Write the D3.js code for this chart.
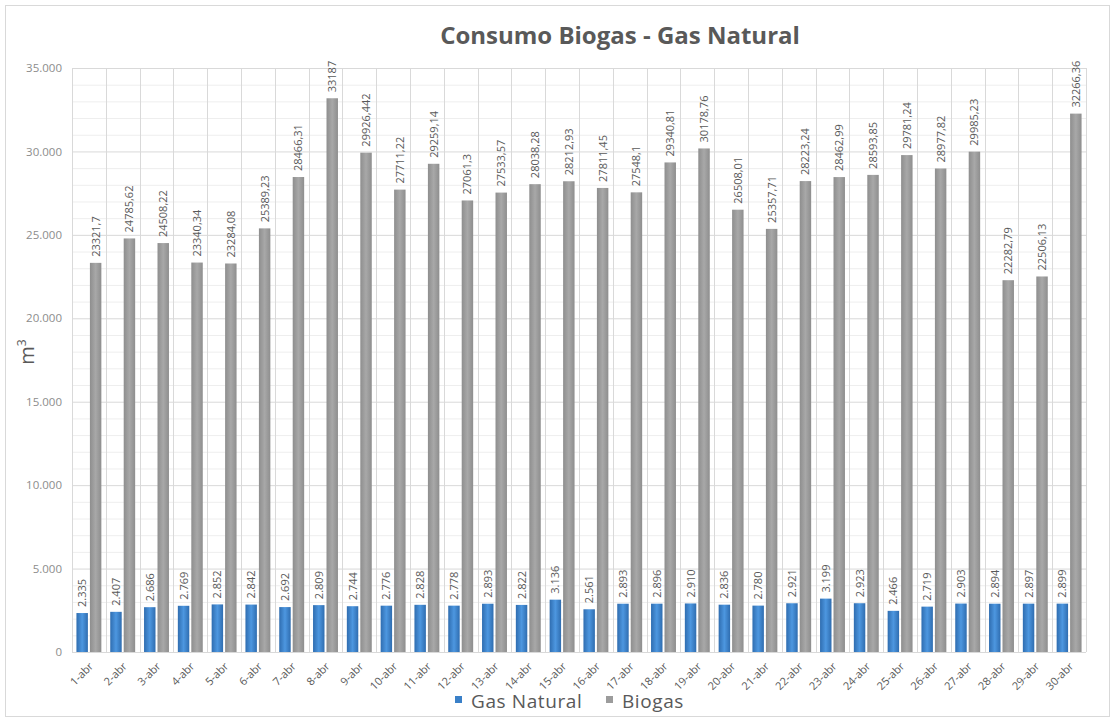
<!DOCTYPE html>
<html>
<head>
<meta charset="utf-8">
<script src="https://cdn.jsdelivr.net/npm/d3@7"></script>
<style>
  html, body { margin: 0; padding: 0; background: #ffffff; }
  svg { display: block; font-family: "Open Sans", "Lato", sans-serif; }
</style>
</head>
<body>
<svg id="chart" width="1115" height="720"></svg>
<script>
// Daily consumption, April
const days = ["1-abr","2-abr","3-abr","4-abr","5-abr","6-abr","7-abr","8-abr","9-abr","10-abr",
  "11-abr","12-abr","13-abr","14-abr","15-abr","16-abr","17-abr","18-abr","19-abr","20-abr",
  "21-abr","22-abr","23-abr","24-abr","25-abr","26-abr","27-abr","28-abr","29-abr","30-abr"];

const gasNatural = [2335, 2407, 2686, 2769, 2852, 2842, 2692, 2809, 2744, 2776,
  2828, 2778, 2893, 2822, 3136, 2561, 2893, 2896, 2910, 2836,
  2780, 2921, 3199, 2923, 2466, 2719, 2903, 2894, 2897, 2899];

const biogas = [23321.7, 24785.62, 24508.22, 23340.34, 23284.08, 25389.23, 28466.31, 33187, 29926.442, 27711.22,
  29259.14, 27061.3, 27533.57, 28038.28, 28212.93, 27811.45, 27548.1, 29340.81, 30178.76, 26508.01,
  25357.71, 28223.24, 28462.99, 28593.85, 29781.24, 28977.82, 29985.23, 22282.79, 22506.13, 32266.36];

const seriesNames = ["Gas Natural", "Biogas"];
const yTicks = [0, 5000, 10000, 15000, 20000, 25000, 30000, 35000];

const svg = d3.select("#chart");
const W = 1115, H = 720;
const m = { left: 72, right: 1086, top: 68, bottom: 652 };

const locale = d3.formatLocale({ decimal: ",", thousands: ".", grouping: [3], currency: ["", ""] });
const fmtThousands = locale.format(",d");
const fmtBiogas = v => String(v).replace(".", ",");

const textColor = "#595959";

// gradients for the bars
const defs = svg.append("defs");
function hGradient(id, edge, mid) {
  const g = defs.append("linearGradient").attr("id", id)
    .attr("x1", "0%").attr("x2", "100%").attr("y1", "0%").attr("y2", "0%");
  g.append("stop").attr("offset", "0%").attr("stop-color", edge);
  g.append("stop").attr("offset", "50%").attr("stop-color", mid);
  g.append("stop").attr("offset", "100%").attr("stop-color", edge);
}
hGradient("gradGas", "#2f6db0", "#4d97e0");
hGradient("gradBio", "#8e8e8e", "#a8a8a8");
const fills = { "Gas Natural": "url(#gradGas)", "Biogas": "url(#gradBio)" };
const swatch = { "Gas Natural": "#3a80c8", "Biogas": "#9c9c9c" };

// outer frame
svg.append("rect").attr("x", 5.5).attr("y", 5.5).attr("width", W - 11).attr("height", H - 9)
  .attr("fill", "#ffffff").attr("stroke", "#d9d9d9");

const x = d3.scaleBand().domain(days).range([m.left, m.right]).padding(0);
const x1 = d3.scaleBand().domain(seriesNames).range([0, x.bandwidth()])
  .paddingInner(0.15).paddingOuter(0.33);
const y = d3.scaleLinear().domain([0, 35000]).range([m.bottom, m.top]);

// horizontal gridlines: minor every 1000, major every 5000
const minor = d3.range(0, 35001, 1000).filter(v => v % 5000 !== 0);
svg.append("g").selectAll("line").data(minor).join("line")
  .attr("x1", m.left).attr("x2", m.right)
  .attr("y1", d => y(d) + 0.5).attr("y2", d => y(d) + 0.5)
  .attr("stroke", "#eeeeee");
svg.append("g").selectAll("line").data(yTicks).join("line")
  .attr("x1", m.left).attr("x2", m.right)
  .attr("y1", d => y(d) + 0.5).attr("y2", d => y(d) + 0.5)
  .attr("stroke", "#d9d9d9");

// vertical gridlines at category boundaries
const bounds = days.map(d => x(d)).concat([m.right]);
svg.append("g").selectAll("line").data(bounds).join("line")
  .attr("x1", d => Math.round(d) + 0.5).attr("x2", d => Math.round(d) + 0.5)
  .attr("y1", m.top).attr("y2", m.bottom)
  .attr("stroke", "#d9d9d9");

// y axis labels
const yAxis = d3.axisLeft(y).tickValues(yTicks).tickSize(0).tickPadding(10)
  .tickFormat(d => fmtThousands(d));
svg.append("g").attr("transform", `translate(${m.left},0)`).call(yAxis)
  .call(g => g.select(".domain").remove())
  .call(g => g.selectAll("text").attr("fill", "#8c8c8c").attr("font-size", 11.5)
    .attr("font-family", "'Open Sans', sans-serif"));

// y axis title
svg.append("text").attr("transform", "translate(34,352) rotate(-90)")
  .attr("text-anchor", "middle").attr("fill", textColor).attr("font-size", 20)
  .html("m<tspan dy='-8' font-size='12'>3</tspan>");

// bars
const rows = days.map((d, i) => ({ day: d, "Gas Natural": gasNatural[i], "Biogas": biogas[i] }));
const groups = svg.append("g").selectAll("g").data(rows).join("g")
  .attr("transform", d => `translate(${x(d.day)},0)`);

groups.selectAll("rect").data(d => seriesNames.map(s => ({ s, v: d[s] }))).join("rect")
  .attr("x", d => x1(d.s)).attr("width", x1.bandwidth())
  .attr("y", d => y(d.v)).attr("height", d => y(0) - y(d.v))
  .attr("fill", d => fills[d.s]);

// value labels, rotated
groups.selectAll("text.val").data(d => seriesNames.map(s => ({ s, v: d[s] }))).join("text")
  .attr("class", "val")
  .attr("transform", d => `translate(${x1(d.s) + x1.bandwidth() / 2 + 4},${y(d.v) - 6}) rotate(-90)`)
  .attr("fill", textColor).attr("font-size", 11)
  .text(d => d.s === "Gas Natural" ? fmtThousands(d.v) : fmtBiogas(d.v));

// x axis labels
const xAxis = d3.axisBottom(x).tickSize(0).tickPadding(0);
svg.append("g").attr("transform", `translate(0,${m.bottom})`).call(xAxis)
  .call(g => g.select(".domain").remove())
  .call(g => g.selectAll("text")
    .attr("fill", textColor).attr("font-size", 11).attr("font-family", "'Open Sans', sans-serif")
    .attr("text-anchor", "end").attr("dy", 0)
    .attr("transform", "translate(5,15) rotate(-45)"));

// title
svg.append("text").attr("x", 620).attr("y", 44).attr("text-anchor", "middle")
  .attr("fill", textColor).attr("font-size", 24).attr("font-weight", "bold")
  .text("Consumo Biogas - Gas Natural");

// legend
const legend = svg.append("g").attr("transform", "translate(455,708)");
const legendX = { "Gas Natural": 0, "Biogas": 151 };
seriesNames.forEach(s => {
  const g = legend.append("g").attr("transform", `translate(${legendX[s]},0)`);
  g.append("rect").attr("x", 0).attr("y", -12).attr("width", 7).attr("height", 7).attr("fill", swatch[s]);
  g.append("text").attr("x", 16).attr("y", 0).attr("fill", textColor).attr("font-size", 19)
    .attr("letter-spacing", 0.6).text(s);
});
</script>
</body>
</html>
